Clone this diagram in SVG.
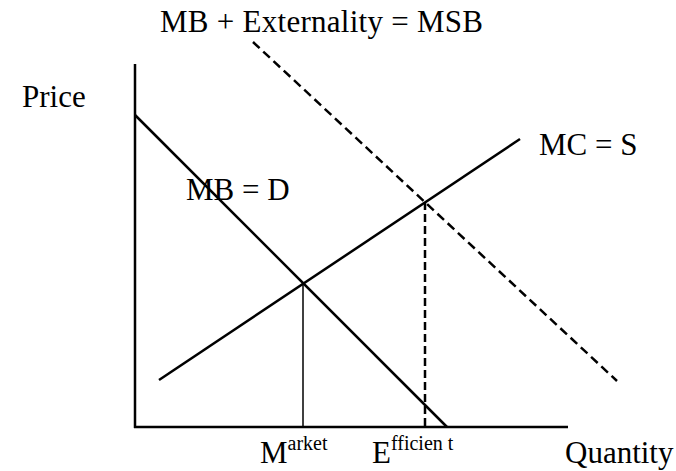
<svg xmlns="http://www.w3.org/2000/svg" width="676" height="471" viewBox="0 0 676 471">
<style>
text{font-family:"Liberation Serif","Times New Roman",serif;fill:#000;font-size:31px}
.sup{font-size:20px}
.solid{stroke:#000;stroke-width:2.5;fill:none}
.thin{stroke:#000;stroke-width:1.5;fill:none}
.dash{stroke:#000;stroke-width:2.5;fill:none;stroke-dasharray:9 5}
</style>
<rect width="676" height="471" fill="#fff"/>
<g id="axes">
<line class="solid" x1="135" y1="64" x2="135" y2="428"/>
<line class="solid" x1="134" y1="427" x2="568" y2="427"/>
</g>
<g id="connectors">
<line id="demand" class="solid" x1="135" y1="115" x2="447" y2="427"/>
<line id="supply" class="solid" x1="159" y1="380" x2="520" y2="139"/>
<line id="msb" class="dash" x1="253" y1="42" x2="617" y2="381"/>
<line id="market-q" class="thin" x1="303" y1="283" x2="303" y2="427"/>
<line id="efficient-q" class="dash" x1="425" y1="202" x2="425" y2="427" style="stroke-dasharray:8 4"/>
</g>
<g id="labels">
<text x="160" y="32" textLength="323">MB + Externality = MSB</text>
<text x="22" y="107">Price</text>
<text x="539" y="155">MC = S</text>
<text x="186" y="200">MB = D</text>
<text x="260" y="463">M<tspan class="sup" dy="-13">arket</tspan></text>
<text x="372" y="463">E<tspan class="sup" dy="-13">fficien t</tspan></text>
<text x="565" y="463">Quantity</text>
</g>
</svg>
